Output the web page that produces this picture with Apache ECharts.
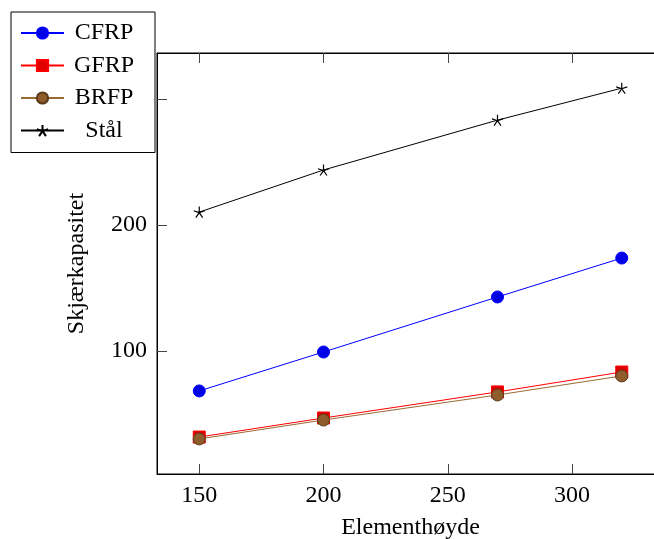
<!DOCTYPE html>
<html>
<head>
<meta charset="utf-8">
<script src="https://cdn.jsdelivr.net/npm/echarts@6/dist/echarts.min.js"></script>
<style>
html,body{margin:0;padding:0;background:#fff;overflow:hidden;}
#chart{width:654px;height:539px;}
</style>
</head>
<body>
<div id="chart"></div>
<script>
var heights = [150, 200, 270, 320];
var cfrp = [68.3, 99.2, 142.9, 173.8];
var gfrp = [31.7, 46.8, 67.5, 83.3];
var brfp = [30.2, 45.2, 65.1, 80.2];
var stal = [210.3, 243.7, 283.3, 308.7];
var seriesNames = ['CFRP', 'GFRP', 'BRFP', 'Stål'];
var xTicks = [150, 200, 250, 300];
var yTicks = [100, 200, 300];
var xTitle = 'Elementhøyde';
var yTitle = 'Skjærkapasitet';

function pairs(ys) { return heights.map(function (h, i) { return [h, ys[i]]; }); }

var FONT = 'Liberation Serif';
var FS = 24;
var starPath = 'path://M0,0 L0,-1 M0,0 L0.951,-0.309 M0,0 L0.588,0.809 M0,0 L-0.588,0.809 M0,0 L-0.951,-0.309';

var chart = echarts.init(document.getElementById('chart'), null, {renderer: 'canvas'});

var tickStyle = {show: true, inside: true, length: 10, lineStyle: {color: '#444', width: 1}};
var xMin = 133, xMax = 337, yMin = 2.35, yMax = 336.6;

chart.setOption({
  animation: false,
  backgroundColor: '#fff',
  grid: {left: 157, top: 53, width: 507, height: 421, outerBoundsMode: 'none', containLabel: false,
         show: true, borderColor: '#000', borderWidth: 1, backgroundColor: 'transparent'},
  legend: {
    left: 11, top: 12, orient: 'vertical',
    backgroundColor: '#fff', borderColor: '#000', borderWidth: 1,
    padding: [9, 16, 10, 9], itemGap: 8.5, itemWidth: 43, itemHeight: 14,
    data: seriesNames,
    formatter: function (n) { return '{a|' + n + '}'; },
    textStyle: {
      fontFamily: FONT, fontSize: FS, color: '#000',
      rich: {a: {width: 70, align: 'center', fontFamily: FONT, fontSize: FS, color: '#000', lineHeight: 24}}
    },
    z: 10
  },
  xAxis: [{
    type: 'value', min: xMin, max: xMax, position: 'bottom',
    name: xTitle, nameLocation: 'middle', nameGap: 42,
    nameTextStyle: {fontFamily: FONT, fontSize: FS, color: '#000'},
    axisLine: {show: true, lineStyle: {color: '#000', width: 1}},
    axisTick: Object.assign({customValues: xTicks}, tickStyle),
    axisLabel: {customValues: xTicks, margin: 10, fontFamily: FONT, fontSize: FS, color: '#000'},
    splitLine: {show: false}
  }, {
    type: 'value', min: xMin, max: xMax, position: 'top',
    axisLine: {show: true, lineStyle: {color: '#000', width: 1}},
    axisTick: Object.assign({customValues: xTicks}, tickStyle),
    axisLabel: {show: false},
    splitLine: {show: false}
  }],
  yAxis: [{
    type: 'value', min: yMin, max: yMax, position: 'left',
    name: yTitle, nameLocation: 'middle', nameGap: 68, nameRotate: 90,
    nameTextStyle: {fontFamily: FONT, fontSize: FS, color: '#000'},
    axisLine: {show: true, lineStyle: {color: '#000', width: 1}},
    axisTick: Object.assign({customValues: yTicks}, tickStyle),
    axisLabel: {customValues: yTicks, margin: 10, fontFamily: FONT, fontSize: FS, color: '#000'},
    splitLine: {show: false}
  }, {
    type: 'value', min: yMin, max: yMax, position: 'right',
    axisLine: {show: true, lineStyle: {color: '#000', width: 1}},
    axisTick: Object.assign({customValues: yTicks}, tickStyle),
    axisLabel: {show: false},
    splitLine: {show: false}
  }],
  series: [{
    name: seriesNames[0], type: 'line', data: pairs(cfrp),
    symbol: 'circle', symbolSize: 12,
    lineStyle: {color: '#0000ff', width: 1},
    itemStyle: {color: '#0000e6', borderColor: '#0000ff', borderWidth: 1}
  }, {
    name: seriesNames[1], type: 'line', data: pairs(gfrp),
    symbol: 'rect', symbolSize: 12,
    lineStyle: {color: '#ff0000', width: 1},
    itemStyle: {color: '#e00000', borderColor: '#ff0000', borderWidth: 1}
  }, {
    name: seriesNames[2], type: 'line', data: pairs(brfp),
    symbol: 'circle', symbolSize: 12,
    lineStyle: {color: '#9a6a35', width: 1},
    itemStyle: {color: '#8f5c2b', borderColor: '#5a3a1a', borderWidth: 1}
  }, {
    name: seriesNames[3], type: 'line', data: pairs(stal),
    symbol: starPath, symbolSize: 11,
    lineStyle: {color: '#000', width: 1},
    itemStyle: {color: 'transparent', borderColor: '#000', borderWidth: 1.2}
  }]
});
</script>
</body>
</html>
